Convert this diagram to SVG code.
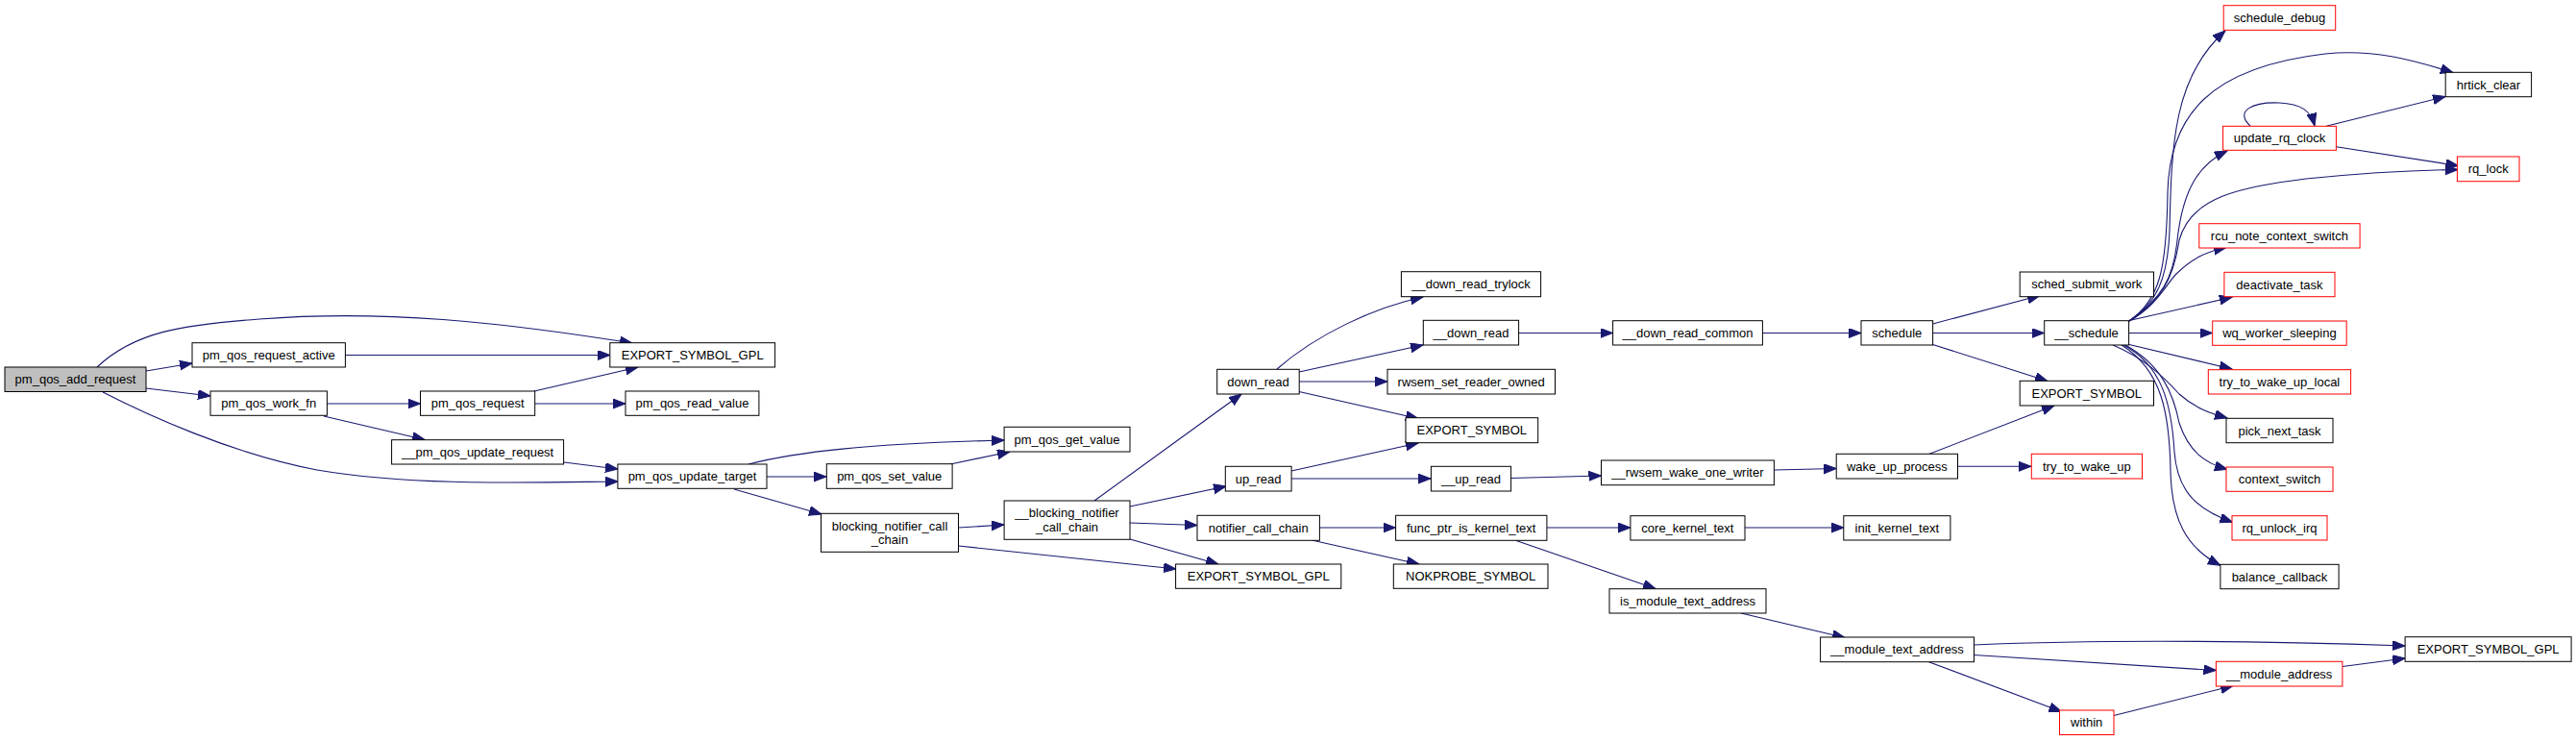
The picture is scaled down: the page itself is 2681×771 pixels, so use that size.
<svg xmlns="http://www.w3.org/2000/svg" width="2681" height="771" viewBox="0 0 2681 771">
<style>
.n rect{fill:#fff;stroke:#000;stroke-width:1}
.n.r rect{stroke:#f00}
.n.s rect{fill:#bfbfbf}
text{font-family:"Liberation Sans",Arial,Helvetica,sans-serif;font-size:13px;text-anchor:middle;fill:#000}
.e path{fill:none;stroke:#191970;stroke-width:1.1;marker-end:url(#a)}
</style>
<defs>
<marker id="a" markerUnits="userSpaceOnUse" markerWidth="14" markerHeight="11" refX="13" refY="5" orient="auto">
<path d="M0,0L13,5L0,10z" fill="#191970" stroke="#191970" stroke-width="1"/>
</marker>
</defs>
<rect width="2681" height="771" fill="#fff"/>
<g id="edges" class="e">
<path d="M101,382 C140,345 190,338 270,332 C400,322 520,335 658,357"/>
<path d="M152,386 L200,378"/>
<path d="M152,404 L219,412"/>
<path d="M107,408 C150,430 240,472 330,489 C430,506 550,502 643,501"/>
<path d="M359,369.5 L635,369.5"/>
<path d="M340,420 L437.5,420"/>
<path d="M337,433 L442,457.5"/>
<path d="M556,407 L664,382"/>
<path d="M557,420 L651,420"/>
<path d="M587,481 L643,488"/>
<path d="M779,483 C830,470 900,462 1045,458"/>
<path d="M798,496 L860,496"/>
<path d="M764,509 L855,535"/>
<path d="M989,483 L1051,470"/>
<path d="M997.5,549 L1045,546"/>
<path d="M997.5,568 L1224,592"/>
<path d="M1139,521 L1292,410"/>
<path d="M1176,527 L1276,506"/>
<path d="M1176,544 L1246,546.5"/>
<path d="M1176,561 L1268,587"/>
<path d="M1329,384 C1370,348 1430,320 1481,309"/>
<path d="M1352,387 L1481,359"/>
<path d="M1352,397 L1444,397"/>
<path d="M1352,407.5 L1476,435.5"/>
<path d="M1344,490 L1476,461"/>
<path d="M1344,498 L1489,498"/>
<path d="M1373,549 L1452.5,549"/>
<path d="M1365,562 L1477,587"/>
<path d="M1580.5,346.5 L1678.5,346.5"/>
<path d="M1572.5,497.5 L1666.5,495"/>
<path d="M1610,549 L1697,549"/>
<path d="M1578,562.5 L1723,612.5"/>
<path d="M1834.5,346.5 L1937,346.5"/>
<path d="M1846.5,489 L1911,487.5"/>
<path d="M1816,549 L1919,549"/>
<path d="M1812,638 L1920,663.5"/>
<path d="M2011.5,337 L2123,307.5"/>
<path d="M2011.5,346.5 L2127.5,346.5"/>
<path d="M2011.5,358.5 L2131,396.5"/>
<path d="M2007.5,472.5 L2138,422"/>
<path d="M2037.5,485.3 L2114,485.3"/>
<path d="M2054.5,671 C2150,667 2300,665 2503,672"/>
<path d="M2054.5,681.5 L2306.5,697.5"/>
<path d="M2007.5,688.7 L2145.5,740.5"/>
<path d="M2200,744.5 L2324,713.5"/>
<path d="M2438,693.5 L2503,685"/>
<path d="M2216,334 C2245,315 2256,290 2258,240 C2260,150 2262,80 2316,32"/>
<path d="M2216,334 C2248,312 2255,280 2256,200 C2258,120 2300,70 2420,56 C2470,51 2510,62 2553,75.5"/>
<path d="M2216,334 C2250,310 2262,290 2266,250 C2272,195 2290,170 2318,157"/>
<path d="M2216,334 C2250,312 2262,290 2268,250 C2280,205 2330,195 2400,186 C2460,180 2520,177 2558,176.5"/>
<path d="M2216,334 C2245,318 2255,295 2265,285 C2280,270 2295,262 2317,257.5"/>
<path d="M2216,333.5 L2323,309.3"/>
<path d="M2216,346.5 L2302.5,346.5"/>
<path d="M2216,358.5 L2323,384"/>
<path d="M2199,359 C2230,372 2250,390 2268,410 C2285,425 2300,430 2318,435"/>
<path d="M2212,359 C2250,380 2262,410 2268,440 C2278,470 2295,482 2318,488.3"/>
<path d="M2210,359 C2250,380 2260,420 2263,470 C2266,510 2285,530 2323.5,543.3"/>
<path d="M2208,359 C2250,385 2258,430 2259,490 C2260,540 2275,570 2311,588.3"/>
<path d="M2342,131 C2325,115 2345,106 2372,107 C2395,108 2405,115 2409,131"/>
<path d="M2421,131.3 L2545,100.5"/>
<path d="M2431.5,152.7 L2558.5,172.5"/>
</g>
<g id="pm_qos_add_request" class="n s"><rect x="5" y="382" width="147" height="25.5"/><text x="78.5" y="399.2">pm_qos_add_request</text></g>
<g id="pm_qos_request_active" class="n"><rect x="200" y="356.7" width="159.4" height="25.3"/><text x="279.7" y="373.8">pm_qos_request_active</text></g>
<g id="EXPORT_SYMBOL_GPL_1" class="n"><rect x="634.8" y="356.7" width="171.8" height="25.3"/><text x="720.7" y="373.8">EXPORT_SYMBOL_GPL</text></g>
<g id="pm_qos_work_fn" class="n"><rect x="219" y="407" width="121.4" height="25.3"/><text x="279.7" y="424.1">pm_qos_work_fn</text></g>
<g id="pm_qos_request" class="n"><rect x="437.5" y="407" width="119.2" height="25.3"/><text x="497.1" y="424.1">pm_qos_request</text></g>
<g id="pm_qos_read_value" class="n"><rect x="651" y="407" width="138.9" height="25.3"/><text x="720.5" y="424.1">pm_qos_read_value</text></g>
<g id="__pm_qos_update_request" class="n"><rect x="407.6" y="457.7" width="179" height="25.3"/><text x="497.1" y="474.8">__pm_qos_update_request</text></g>
<g id="pm_qos_update_target" class="n"><rect x="642.9" y="483" width="155.1" height="25.3"/><text x="720.5" y="500.1">pm_qos_update_target</text></g>
<g id="pm_qos_get_value" class="n"><rect x="1045.1" y="444.3" width="130.9" height="25.7"/><text x="1110.5" y="461.6">pm_qos_get_value</text></g>
<g id="pm_qos_set_value" class="n"><rect x="860.3" y="482.7" width="130.8" height="25.6"/><text x="925.7" y="500">pm_qos_set_value</text></g>
<g id="blocking_notifier_call_chain" class="n"><rect x="854.5" y="534.3" width="143" height="40"/><text x="926" y="551.5">blocking_notifier_call</text><text x="926" y="566">_chain</text></g>
<g id="__blocking_notifier_call_chain" class="n"><rect x="1045.1" y="521" width="130.9" height="40.3"/><text x="1110.5" y="538.3">__blocking_notifier</text><text x="1110.5" y="552.8">_call_chain</text></g>
<g id="down_read" class="n"><rect x="1266.7" y="384.3" width="85.5" height="25.7"/><text x="1309.5" y="401.6">down_read</text></g>
<g id="__down_read_trylock" class="n"><rect x="1458.4" y="282.7" width="145.2" height="26"/><text x="1531" y="300.2">__down_read_trylock</text></g>
<g id="__down_read" class="n"><rect x="1481.3" y="333.3" width="99.3" height="25.7"/><text x="1531" y="350.6">__down_read</text></g>
<g id="rwsem_set_reader_owned" class="n"><rect x="1444" y="384.3" width="174.5" height="25.7"/><text x="1531.2" y="401.6">rwsem_set_reader_owned</text></g>
<g id="EXPORT_SYMBOL_1" class="n"><rect x="1463" y="434.7" width="137.7" height="26"/><text x="1531.8" y="452.2">EXPORT_SYMBOL</text></g>
<g id="up_read" class="n"><rect x="1275.3" y="485.3" width="68.8" height="25.7"/><text x="1309.7" y="502.6">up_read</text></g>
<g id="__up_read" class="n"><rect x="1489.4" y="485.3" width="83.2" height="25.7"/><text x="1531" y="502.6">__up_read</text></g>
<g id="notifier_call_chain" class="n"><rect x="1246" y="536.3" width="127.4" height="26"/><text x="1309.7" y="553.8">notifier_call_chain</text></g>
<g id="func_ptr_is_kernel_text" class="n"><rect x="1452.6" y="536.3" width="157.3" height="26"/><text x="1531.2" y="553.8">func_ptr_is_kernel_text</text></g>
<g id="EXPORT_SYMBOL_GPL_2" class="n"><rect x="1223.6" y="587" width="172.2" height="25.3"/><text x="1309.7" y="604.1">EXPORT_SYMBOL_GPL</text></g>
<g id="NOKPROBE_SYMBOL" class="n"><rect x="1450.3" y="587" width="160.7" height="25.3"/><text x="1530.6" y="604.1">NOKPROBE_SYMBOL</text></g>
<g id="__down_read_common" class="n"><rect x="1678.6" y="333.7" width="155.8" height="25.3"/><text x="1756.5" y="350.8">__down_read_common</text></g>
<g id="__rwsem_wake_one_writer" class="n"><rect x="1666.5" y="479" width="179.9" height="25.7"/><text x="1756.4" y="496.3">__rwsem_wake_one_writer</text></g>
<g id="core_kernel_text" class="n"><rect x="1696.9" y="536.7" width="119.1" height="25.3"/><text x="1756.4" y="553.8">core_kernel_text</text></g>
<g id="is_module_text_address" class="n"><rect x="1675" y="612.7" width="163" height="25.3"/><text x="1756.5" y="629.8">is_module_text_address</text></g>
<g id="schedule" class="n"><rect x="1937" y="333.7" width="74.6" height="25.3"/><text x="1974.3" y="350.8">schedule</text></g>
<g id="wake_up_process" class="n"><rect x="1911.2" y="472.3" width="126.3" height="25.7"/><text x="1974.3" y="489.6">wake_up_process</text></g>
<g id="init_kernel_text" class="n"><rect x="1918.8" y="536.7" width="111.1" height="25.3"/><text x="1974.3" y="553.8">init_kernel_text</text></g>
<g id="__module_text_address" class="n"><rect x="1894.6" y="663" width="159.9" height="25.7"/><text x="1974.5" y="680.3">__module_text_address</text></g>
<g id="sched_submit_work" class="n"><rect x="2102.2" y="283" width="139.3" height="25.7"/><text x="2171.8" y="300.3">sched_submit_work</text></g>
<g id="__schedule" class="n"><rect x="2127.7" y="333.7" width="87.9" height="25.3"/><text x="2171.6" y="350.8">__schedule</text></g>
<g id="EXPORT_SYMBOL_2" class="n"><rect x="2102.2" y="396.3" width="139.3" height="25.7"/><text x="2171.8" y="413.6">EXPORT_SYMBOL</text></g>
<g id="try_to_wake_up" class="n r"><rect x="2114.3" y="472.3" width="115.2" height="25.7"/><text x="2171.9" y="489.6">try_to_wake_up</text></g>
<g id="within" class="n r"><rect x="2143.5" y="739" width="56.5" height="25.5"/><text x="2171.7" y="756.2">within</text></g>
<g id="schedule_debug" class="n r"><rect x="2314.2" y="5.7" width="116.5" height="25.6"/><text x="2372.4" y="23">schedule_debug</text></g>
<g id="update_rq_clock" class="n r"><rect x="2313.6" y="131.3" width="117.8" height="25"/><text x="2372.5" y="148.3">update_rq_clock</text></g>
<g id="rcu_note_context_switch" class="n r"><rect x="2288.8" y="232.7" width="167.3" height="25.3"/><text x="2372.4" y="249.8">rcu_note_context_switch</text></g>
<g id="deactivate_task" class="n r"><rect x="2314.9" y="283.3" width="115.1" height="25.4"/><text x="2372.4" y="300.5">deactivate_task</text></g>
<g id="wq_worker_sleeping" class="n r"><rect x="2302.7" y="334" width="139.5" height="25.3"/><text x="2372.4" y="351.1">wq_worker_sleeping</text></g>
<g id="try_to_wake_up_local" class="n r"><rect x="2298.3" y="384.7" width="148.3" height="25.3"/><text x="2372.4" y="401.8">try_to_wake_up_local</text></g>
<g id="pick_next_task" class="n"><rect x="2317" y="435.3" width="111" height="25.4"/><text x="2372.5" y="452.5">pick_next_task</text></g>
<g id="context_switch" class="n r"><rect x="2317" y="486" width="111" height="25.3"/><text x="2372.5" y="503.1">context_switch</text></g>
<g id="rq_unlock_irq" class="n r"><rect x="2323" y="536.7" width="99" height="25.3"/><text x="2372.5" y="553.8">rq_unlock_irq</text></g>
<g id="balance_callback" class="n"><rect x="2310.9" y="587.3" width="123.2" height="25.4"/><text x="2372.5" y="604.5">balance_callback</text></g>
<g id="__module_address" class="n r"><rect x="2306.4" y="688.3" width="131.5" height="25.7"/><text x="2372.1" y="705.6">__module_address</text></g>
<g id="hrtick_clear" class="n"><rect x="2545.2" y="75.3" width="89.4" height="25.4"/><text x="2589.9" y="92.5">hrtick_clear</text></g>
<g id="rq_lock" class="n r"><rect x="2557.4" y="163" width="64.6" height="25.7"/><text x="2589.7" y="180.3">rq_lock</text></g>
<g id="EXPORT_SYMBOL_GPL_3" class="n"><rect x="2503.1" y="662.7" width="173" height="25.6"/><text x="2589.6" y="680">EXPORT_SYMBOL_GPL</text></g>
</svg>
